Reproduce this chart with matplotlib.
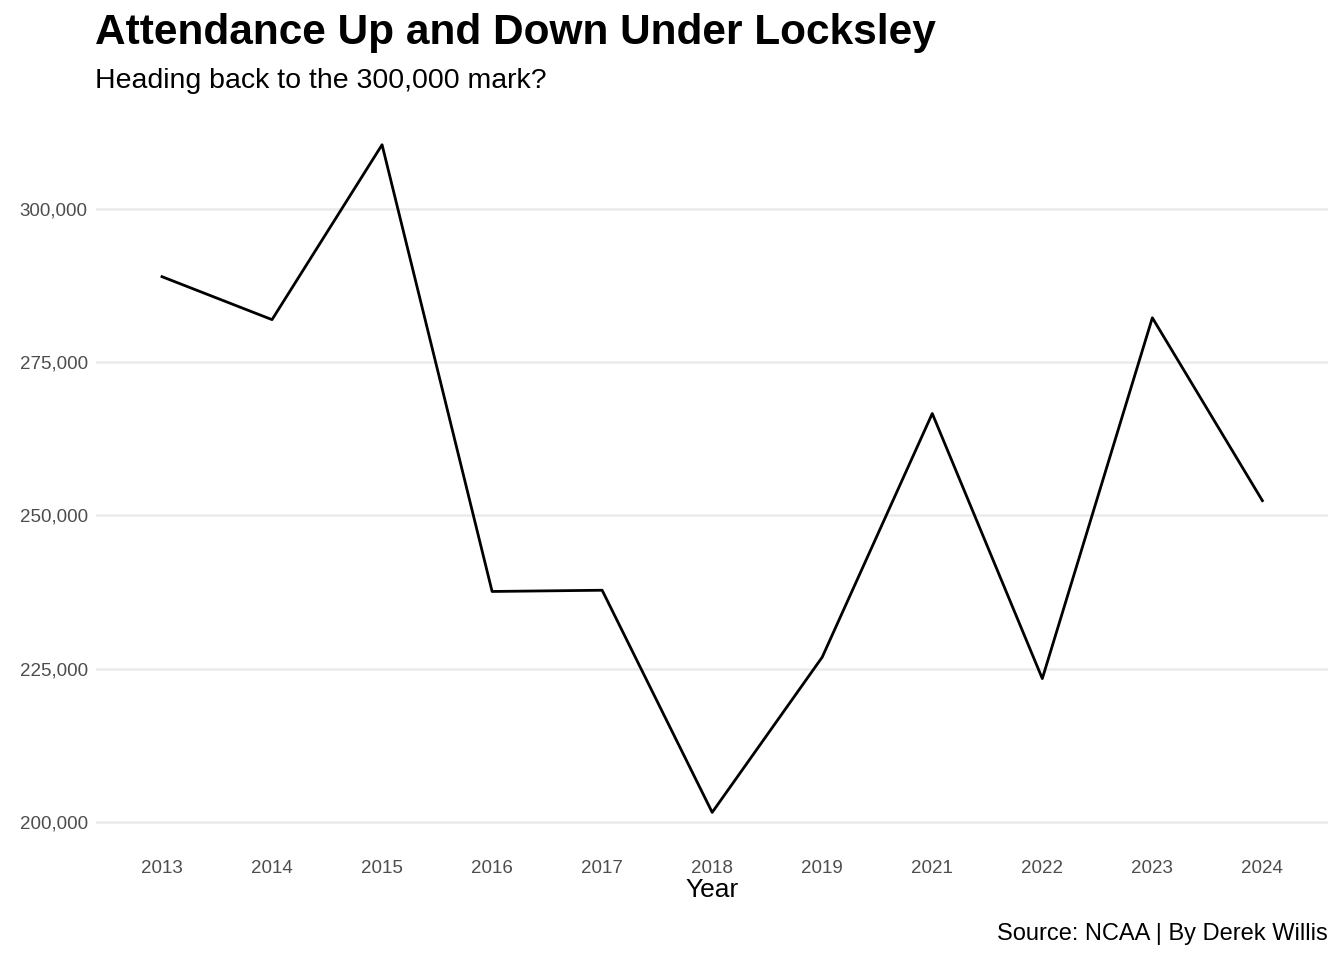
import matplotlib
matplotlib.use("Agg")
import matplotlib.pyplot as plt
from matplotlib.ticker import FuncFormatter

plt.rcParams['font.family'] = ['Liberation Sans', 'DejaVu Sans']

years = ['2013', '2014', '2015', '2016', '2017', '2018', '2019', '2021', '2022', '2023', '2024']
attendance = [288900, 281900, 310400, 237600, 237800, 201600, 226900, 266600, 223400, 282200, 252400]

fig = plt.figure(figsize=(13.44, 9.6), dpi=100)
ax = fig.add_axes([0.0714, 0.119, 0.917, 0.765])

x = list(range(len(years)))
ax.plot(x, attendance, color='black', linewidth=2)

ax.set_xlim(-0.6, len(years) - 1 + 0.6)
lo, hi = min(attendance), max(attendance)
pad = (hi - lo) * 0.05
ax.set_ylim(lo - pad, hi + pad)
ax.set_yticks([200000, 225000, 250000, 275000, 300000])
ax.yaxis.set_major_formatter(FuncFormatter(lambda v, p: f"{int(v):,}"))
ax.set_xticks(x)
ax.set_xticklabels(years)

ax.grid(axis='y', color='#ebebeb', linewidth=1.8)
ax.set_axisbelow(True)
for s in ax.spines.values():
    s.set_visible(False)
ax.tick_params(length=0, labelsize=13.5, labelcolor='#4d4d4d', pad=6)
ax.tick_params(axis='x', pad=10)
ax.set_xlabel('Year', fontsize=19, labelpad=1)

fig.text(0.0707, 0.966, 'Attendance Up and Down Under Locksley', fontsize=30.5,
         fontweight='bold', va='center', ha='left')
fig.text(0.0707, 0.916, 'Heading back to the 300,000 mark?', fontsize=20.5,
         va='center', ha='left')
fig.text(0.988, 0.027, 'Source: NCAA | By Derek Willis', fontsize=17,
         va='center', ha='right')

fig.savefig('out.png', dpi=100)
